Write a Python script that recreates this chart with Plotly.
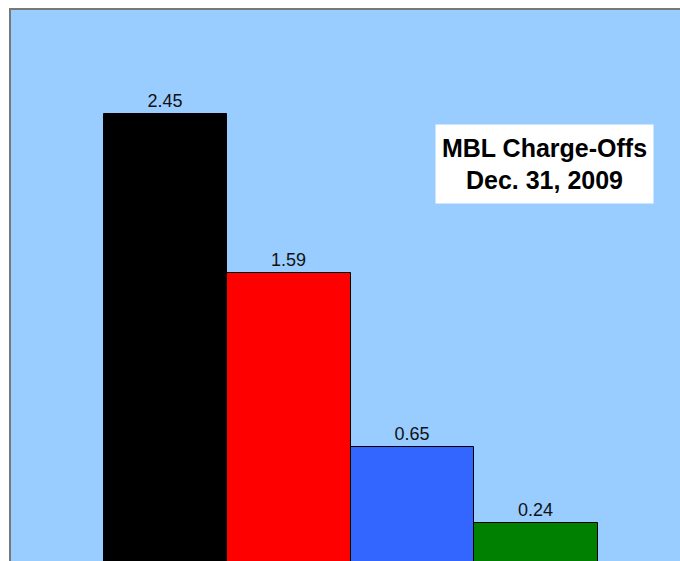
import plotly.graph_objects as go

categories = ["Cat 1", "Cat 2", "Cat 3", "Cat 4"]
values = [2.45, 1.59, 0.65, 0.24]
labels = ["2.45", "1.59", "0.65", "0.24"]
colors = ["#000000", "#FF0000", "#3366FF", "#008000"]
title_text = "<b>MBL Charge-Offs<br>Dec. 31, 2009</b>"

fig = go.Figure()
fig.add_trace(go.Bar(
    x=categories,
    y=values,
    text=labels,
    textposition="outside",
    cliponaxis=False,
    textfont=dict(family="Arial, Liberation Sans", size=18, color="#111111"),
    marker=dict(color=colors, line=dict(color="#000000", width=1)),
    hoverinfo="skip",
))

fig.add_annotation(
    xref="paper", yref="paper",
    x=0.7975, y=0.7205,
    xanchor="center", yanchor="middle",
    text=title_text,
    showarrow=False,
    width=215, height=76,
    bgcolor="#FFFFFF",
    font=dict(family="Arial, Liberation Sans", size=25, color="#000000"),
    align="center",
)

fig.update_layout(
    width=680, height=561,
    margin=dict(l=11, r=0, t=10, b=0),
    paper_bgcolor="#FFFFFF",
    plot_bgcolor="#99CCFF",
    bargap=0,
    showlegend=False,
    xaxis=dict(
        type="category",
        range=[-1.25, 4.165],
        side="top",
        showline=True, linecolor="#787878", linewidth=2,
        showticklabels=False, ticks="", showgrid=False, zeroline=False,
        fixedrange=True,
    ),
    yaxis=dict(
        range=[0.035, 3.01],
        showline=True, linecolor="#787878", linewidth=2,
        showticklabels=False, ticks="", showgrid=False, zeroline=False,
        fixedrange=True,
    ),
)

fig.write_html(
    "out.html",
    config={"displayModeBar": False},
    post_script="document.body.style.margin='0px';document.body.style.overflow='hidden';document.documentElement.style.overflow='hidden';",
)
